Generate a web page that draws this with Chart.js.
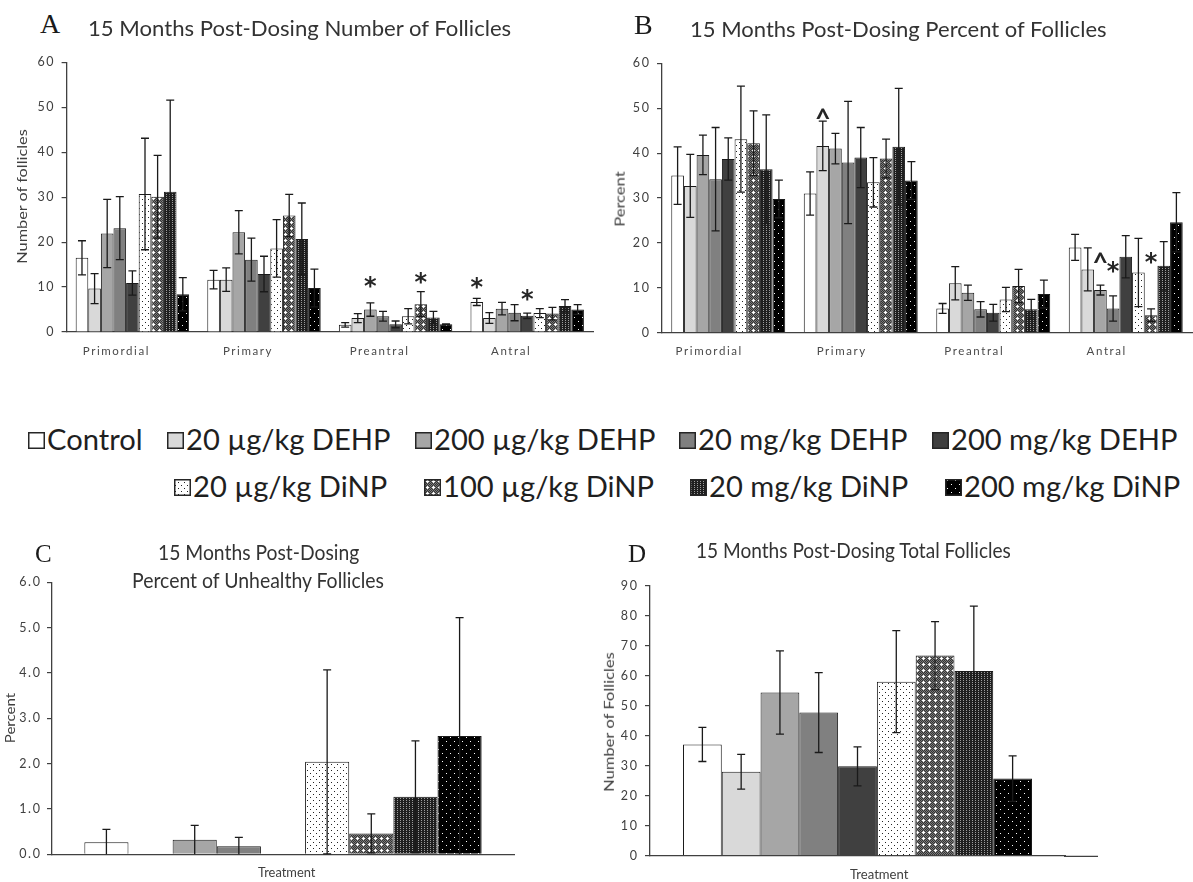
<!DOCTYPE html>
<html><head><meta charset="utf-8">
<script src="https://cdn.jsdelivr.net/npm/chart.js@4.4.1/dist/chart.umd.min.js"></script>
<style>
html,body{margin:0;padding:0;background:#fff;}
body{width:1193px;height:882px;position:relative;overflow:hidden;font-family:Lato,'Open Sans',sans-serif;}
canvas.ch{position:absolute;}
.t{position:absolute;white-space:nowrap;transform-origin:0 0;line-height:normal;}
.sw{position:absolute;}
</style></head><body>
<canvas class="ch" id="cA" width="600" height="330" style="left:0;top:40px"></canvas>
<canvas class="ch" id="cB" width="593" height="330" style="left:600px;top:40px"></canvas>
<canvas class="ch" id="cC" width="590" height="322" style="left:0;top:560px"></canvas>
<canvas class="ch" id="cD" width="603" height="322" style="left:590px;top:560px"></canvas>
<script>
// ---------------- DATA ----------------
const treatments = ['Control','20 µg/kg DEHP','200 µg/kg DEHP','20 mg/kg DEHP','200 mg/kg DEHP','20 µg/kg DiNP','100 µg/kg DiNP','20 mg/kg DiNP','200 mg/kg DiNP'];
const stages = ['Primordial','Primary','Preantral','Antral'];
const yTicksA = [0,10,20,30,40,50,60];
const yTicksB = [0,10,20,30,40,50,60];
const yTicksC = [0,1,2,3,4,5,6];
const yTicksD = [0,10,20,30,40,50,60,70,80,90];

// Panel A: number of follicles (values per treatment, in treatment order)
const numPrimordial    = [16.5, 9.65, 21.9, 23.1, 10.9, 30.7, 30.1, 31.2, 8.4];
const numPrimordialErr = [3.8, 3.35, 7.6, 7.0, 2.7, 12.4, 9.2, 20.4, 3.7];
const numPrimary       = [11.65, 11.65, 22.2, 16.1, 12.9, 18.6, 25.9, 20.7, 9.8];
const numPrimaryErr    = [2.05, 2.6, 4.8, 4.8, 3.95, 6.4, 4.7, 8.0, 4.2];
const numPreantral     = [1.6, 3.1, 5.0, 3.5, 1.7, 3.5, 6.2, 3.2, 1.7];
const numPreantralErr  = [0.5, 1.0, 1.5, 1.1, 0.75, 1.7, 2.8, 1.4, 0.1];
const numAntral        = [6.7, 3.1, 5.2, 4.3, 3.6, 4.2, 4.1, 5.8, 5.0];
const numAntralErr     = [0.8, 1.2, 1.4, 1.8, 0.6, 1.0, 1.4, 1.4, 1.1];

// Panel B: percent of follicles
const pctPrimordial    = [35.0, 32.7, 39.6, 34.2, 38.7, 43.1, 42.2, 36.4, 29.8];
const pctPrimordialErr = [6.4, 7.0, 4.4, 11.5, 4.7, 11.8, 7.2, 12.1, 4.2];
const pctPrimary       = [31.0, 41.6, 41.0, 37.9, 39.0, 33.5, 38.8, 41.4, 33.9];
const pctPrimaryErr    = [4.8, 5.5, 3.4, 13.6, 6.7, 5.5, 4.3, 13.0, 4.2];
const pctPreantral     = [5.4, 11.0, 8.9, 5.2, 4.45, 7.4, 10.4, 5.2, 8.6];
const pctPreantralErr  = [1.1, 3.7, 1.7, 1.7, 1.85, 2.7, 3.7, 2.2, 3.1];
const pctAntral        = [19.0, 14.1, 9.5, 5.4, 16.9, 13.4, 3.9, 14.9, 24.6];
const pctAntralErr     = [2.9, 4.8, 1.1, 2.8, 4.7, 7.6, 1.4, 5.4, 6.6];

// Panel C: percent of unhealthy follicles
const unhealthy    = [0.265, 0, 0.32, 0.18, 0, 2.04, 0.46, 1.27, 2.61];
const unhealthyErr = [0.285, 0, 0.32, 0.195, 0, 2.03, 0.43, 1.23, 2.61];

// Panel D: total follicles
const totalFoll    = [37.1, 28.0, 54.4, 47.7, 29.8, 58.0, 66.7, 61.6, 25.7];
const totalFollErr = [5.7, 5.8, 13.9, 13.3, 6.5, 17.0, 11.3, 21.6, 7.6];

// significance marks: [treatment index, stage index, symbol, level]
const marksA = [[2,2,'*',11.1],[6,2,'*',12.0],[0,3,'*',10.9],[4,3,'*',8.2]];
const marksB = [[1,1,'^',48.9],[2,3,'^',16.8],[3,3,'*',14.6],[6,3,'*',16.6]];

// ---------------- FILLS ----------------
function tile(w,h,bg,draw){
  const c=document.createElement('canvas');c.width=w;c.height=h;
  const x=c.getContext('2d');x.fillStyle=bg;x.fillRect(0,0,w,h);draw(x);
  return c;
}
function px(x,col,pts){x.fillStyle=col;pts.forEach(p=>x.fillRect(p[0],p[1],1,1));}
const tileDots = tile(6,6,'#ffffff',x=>px(x,'#222',[[1,0],[4,3]]));
const tileCross = tile(6,6,'#7a7a7a',x=>{
  const p=[];for(let i=0;i<6;i++)for(let j=0;j<6;j++)if((i+j)%2===0)p.push([i,j]);
  px(x,'#333333',p);px(x,'#ffffff',[[3,1],[2,2],[3,2],[4,2],[3,3]]);
});
const tileStripe = tile(3,2,'#1f1f1f',x=>px(x,'#9c9c9c',[[1,0]]));
const tileBlack = tile(8,8,'#000000',x=>px(x,'#ffffff',[[2,1],[6,5]]));
function fills(ctx){
  return ['#ffffff','#d9d9d9','#a6a6a6','#808080','#404040',
    ctx.createPattern(tileDots,'repeat'),ctx.createPattern(tileCross,'repeat'),
    ctx.createPattern(tileStripe,'repeat'),ctx.createPattern(tileBlack,'repeat')];
}

// ---------------- PLUGINS ----------------
const textPlugin={id:'txt',beforeDraw(chart){chart.ctx.letterSpacing='1.6px';}};
const errPlugin={id:'errbars',afterDatasetsDraw(chart,args,opts){
  const ctx=chart.ctx,ys=chart.scales.y;
  ctx.save();ctx.strokeStyle='#1a1a1a';ctx.lineWidth=1.3;
  chart.data.datasets.forEach((ds,i)=>{
    if(!ds.errors)return;
    const meta=chart.getDatasetMeta(i);
    meta.data.forEach((bar,j)=>{
      const v=ds.data[j],e=ds.errors[j];
      if(v==null||!e)return;
      const yt=ys.getPixelForValue(v+e),lo=Math.max(0,v-e),yb=ys.getPixelForValue(lo);
      const x=bar.x,h=opts.cap||4;
      ctx.beginPath();ctx.moveTo(x,yb);ctx.lineTo(x,yt);
      ctx.moveTo(x-h,yt);ctx.lineTo(x+h,yt);
      if(lo>0){ctx.moveTo(x-h,yb);ctx.lineTo(x+h,yb);}
      ctx.stroke();
    });
  });
  ctx.restore();
}};
const markPlugin={id:'marks',afterDraw(chart,args,opts){
  if(!opts.items)return;
  const ctx=chart.ctx,ys=chart.scales.y;
  ctx.save();ctx.letterSpacing='0px';ctx.fillStyle='#262626';ctx.textAlign='center';ctx.textBaseline='alphabetic';
  opts.items.forEach(m=>{
    const bar=chart.getDatasetMeta(m[0]).data[m[1]];
    ctx.font=m[2]==='*'?'bold 24px "DejaVu Sans"':'bold 27px Lato';
    const mt=ctx.measureText(m[2]);
    const cy=ys.getPixelForValue(m[3]);
    const y0=cy-(mt.actualBoundingBoxDescent-mt.actualBoundingBoxAscent)/2;
    ctx.fillText(m[2],bar.x,y0);
  });
  ctx.restore();
}};
const extPlugin={id:'axisext',afterDraw(chart,args,opts){
  if(!opts.ext)return;
  const ctx=chart.ctx,xs=chart.scales.x;
  ctx.save();ctx.strokeStyle='#404040';ctx.lineWidth=1.3;
  const y=xs.top+0.65;
  ctx.beginPath();ctx.moveTo(chart.chartArea.right-1,y);ctx.lineTo(chart.chartArea.right+opts.ext,y);ctx.stroke();
  ctx.restore();
}};

// ---------------- CHARTS ----------------
function makeChart(id,cfg){
  const cv=document.getElementById(id),ctx=cv.getContext('2d');
  const f=fills(ctx);
  const datasets=treatments.map((t,i)=>({
    label:t,data:cfg.series.map(a=>a[i]),errors:cfg.errs.map(a=>a[i]),
    backgroundColor:f[i],borderColor:'#1a1a1a',borderWidth:1,
    categoryPercentage:cfg.cp,barPercentage:1.0
  }));
  return new Chart(ctx,{type:'bar',
    data:{labels:cfg.labels,datasets},
    options:{responsive:false,animation:false,devicePixelRatio:1,
      layout:{padding:cfg.pad},
      plugins:{legend:{display:false},tooltip:{enabled:false},
        errbars:{cap:4},marks:{items:cfg.marks||null},axisext:{ext:cfg.ext||0}},
      scales:{
        x:{offset:true,grid:{display:false,drawTicks:false},
          border:{display:true,color:'#404040',width:1.3},
          ticks:{display:cfg.xTicks,padding:cfg.xPad||12,labelOffset:cfg.labelOffset||0,
            font:{family:'Lato',size:11.5},color:'#4a4a4a',maxRotation:0,autoSkip:false},
          afterFit(s){s.height=cfg.xh;}},
        y:{min:cfg.yTicks[0],max:cfg.yTicks[cfg.yTicks.length-1],
          afterBuildTicks(s){s.ticks=cfg.yTicks.map(v=>({value:v}));},
          ticks:{padding:cfg.yPad,font:{family:'Lato',size:12.5},color:'#404040',
            callback:cfg.fmt||(v=>String(v))},
          grid:{drawOnChartArea:false,drawTicks:true,tickLength:5,color:'#404040',lineWidth:1.2},
          border:{display:true,color:'#404040',width:1.3},
          afterFit(s){s.width=cfg.yw;}}
      }},
    plugins:[textPlugin,errPlugin,markPlugin,extPlugin]});
}

makeChart('cA',{labels:stages,series:[numPrimordial,numPrimary,numPreantral,numAntral],
  errs:[numPrimordialErr,numPrimaryErr,numPreantralErr,numAntralErr],
  cp:0.862,pad:{left:0,right:7,top:22.3,bottom:8},xh:30,yw:66.6,yTicks:yTicksA,yPad:6.5,
  xTicks:true,labelOffset:-16,xPad:12,marks:marksA});
makeChart('cB',{labels:stages,series:[pctPrimordial,pctPrimary,pctPreantral,pctAntral],
  errs:[pctPrimordialErr,pctPrimaryErr,pctPreantralErr,pctAntralErr],
  cp:0.86,pad:{left:0,right:1,top:23.3,bottom:7.3},xh:30,yw:62,yTicks:yTicksB,yPad:6.5,
  xTicks:true,labelOffset:-19,xPad:12,marks:marksB});
makeChart('cC',{labels:['Treatment'],series:[unhealthy],errs:[unhealthyErr],
  cp:0.86,pad:{left:0,right:76,top:22.3,bottom:7.7},xh:20,yw:52,yTicks:yTicksC,yPad:5.5,
  xTicks:false,fmt:v=>v.toFixed(1)});
makeChart('cD',{labels:['Treatment'],series:[totalFoll],errs:[totalFollErr],
  cp:0.841,pad:{left:0,right:128,top:25.7,bottom:6.3},xh:20,yw:60,yTicks:yTicksD,yPad:6.5,
  xTicks:false,ext:33});

// ---------------- TEXT ----------------
function placeText(txt,o){
  const el=document.createElement('div');el.className='t';
  el.style.font=(o.weight||'normal')+' '+o.size+'px '+(o.family||'Lato');
  el.style.color=o.color||'#333333';
  if(o.ls)el.style.letterSpacing=o.ls+'px';
  el.textContent=txt;
  const pr=document.createElement('span');pr.style.cssText='display:inline-block;width:0;height:0;';
  el.appendChild(pr);document.body.appendChild(el);
  const base=pr.offsetTop,w=el.offsetWidth,h=el.offsetHeight;
  if(o.rot){
    const k=o.len?o.len/w:1;
    el.style.transformOrigin='50% 50%';
    el.style.left=(o.cx-w/2)+'px';el.style.top=(o.cy-h/2)+'px';
    el.style.transform='rotate(-90deg) scaleX('+k+')';
    return el;
  }
  let left=o.left,k=o.k||1;
  if(o.right!=null){k=(o.right-o.left)/w;}
  else if(o.cx!=null){left=o.cx-w/2;}
  el.style.left=left+'px';el.style.top=(o.baseline-base)+'px';
  if(k!==1)el.style.transform='scaleX('+k+')';
  el._w=w*k;
  return el;
}
// panel letters
placeText('A',{left:40,baseline:33,size:28,family:'"Liberation Serif",serif',color:'#1a1a1a'});
placeText('B',{left:634,baseline:33.5,size:28,family:'"Liberation Serif",serif',color:'#1a1a1a'});
placeText('C',{left:35,baseline:562,size:25,family:'"Liberation Serif",serif',color:'#1a1a1a'});
placeText('D',{left:628,baseline:562,size:25,family:'"Liberation Serif",serif',color:'#1a1a1a'});
// titles
placeText('15 Months Post-Dosing Number of Follicles',{left:88,right:511,baseline:36,size:21.5});
placeText('15 Months Post-Dosing Percent of Follicles',{left:690,right:1107,baseline:37,size:21.5});
placeText('15 Months Post-Dosing',{left:158,right:359,baseline:560,size:21.5});
placeText('Percent of Unhealthy Follicles',{left:132,right:384,baseline:588,size:21.5});
placeText('15 Months Post-Dosing Total Follicles',{left:696,right:1011,baseline:558,size:21.5});
// axis titles
placeText('Number of follicles',{rot:true,cx:22,cy:196,len:135,size:14,color:'#404040'});
placeText('Percent',{rot:true,cx:619,cy:199,len:55,size:13.5,color:'#404040'});
placeText('Percent',{rot:true,cx:10,cy:718,len:51,size:13,color:'#404040'});
placeText('Number of Follicles',{rot:true,cx:609,cy:722,len:140,size:13,color:'#404040'});
placeText('Treatment',{left:258,right:315,baseline:877,size:14,color:'#404040'});
placeText('Treatment',{left:850,right:908,baseline:879,size:14,color:'#404040'});

// legend: two rows, each spanning a measured extent
const legendRows=[[0,1,2,3,4],[5,6,7,8]];
const rowSpan=[[28,1178],[174,1180]];
const rowBase=[450,497];
legendRows.forEach((row,r)=>{
  const items=row.map(i=>{
    const c=document.createElement('canvas');c.width=17;c.height=17;c.className='sw';
    const x=c.getContext('2d');x.fillStyle=fills(x)[i];x.fillRect(0,0,17,17);
    x.strokeStyle='#262626';x.lineWidth=1.5;x.strokeRect(0.75,0.75,15.5,15.5);
    document.body.appendChild(c);
    const el=placeText(treatments[i],{left:0,baseline:rowBase[r],size:28,k:1.04,color:'#1f1f1f'});
    return {c,el,w:19+el._w};
  });
  const total=items.reduce((s,it)=>s+it.w,0);
  const gap=(rowSpan[r][1]-rowSpan[r][0]-total)/(items.length-1);
  let xpos=rowSpan[r][0];
  items.forEach(it=>{
    it.c.style.left=xpos+'px';it.c.style.top=(rowBase[r]-18)+'px';
    it.el.style.left=(xpos+19)+'px';
    xpos+=it.w+gap;
  });
});
</script>
</body></html>
